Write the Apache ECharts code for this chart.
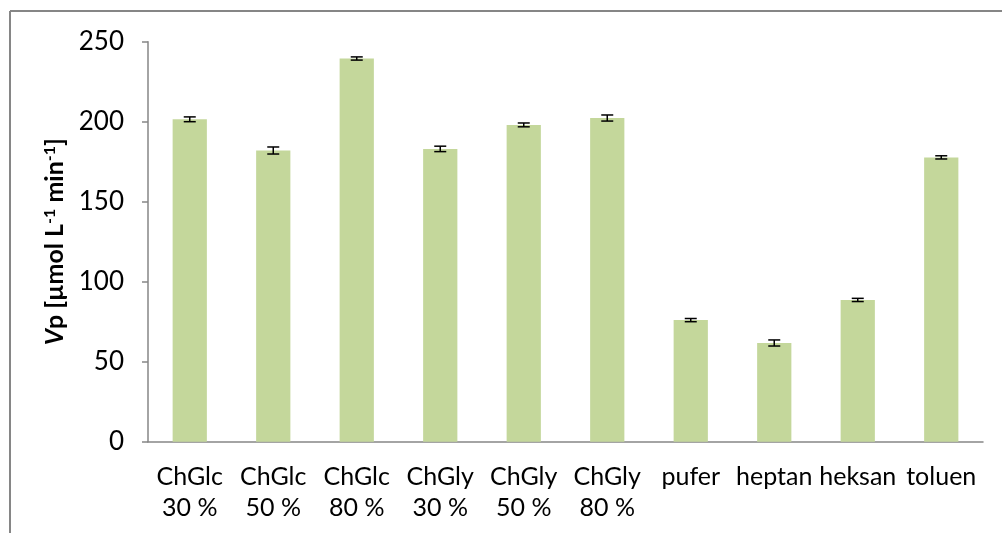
<!DOCTYPE html>
<html>
<head>
<meta charset="utf-8">
<script src="https://cdn.jsdelivr.net/npm/echarts@6/dist/echarts.min.js"></script>
<style>
html,body{margin:0;padding:0;background:#fff;}
#chart{width:1002px;height:533px;}
</style>
</head>
<body>
<div id="chart"></div>
<script>
var categories = ['ChGlc\n30 %', 'ChGlc\n50 %', 'ChGlc\n80 %', 'ChGly\n30 %', 'ChGly\n50 %', 'ChGly\n80 %', 'pufer', 'heptan', 'heksan', 'toluen'];
var values = [201.5, 182, 239.5, 183, 198, 202.3, 76, 61.7, 88.6, 177.7];
var errors = [1.5, 2.2, 1.0, 1.7, 1.2, 1.9, 1.0, 1.9, 1.0, 1.0];
var yTicks = [0, 50, 100, 150, 200, 250];

var errData = values.map(function (v, i) { return [i, v - errors[i], v + errors[i]]; });

var chart = echarts.init(document.getElementById('chart'));
var font = 'Lato';
chart.setOption({
  animation: false,
  backgroundColor: '#fff',
  grid: { left: 148, right: 19, top: 41.7, bottom: 91.3 },
  graphic: [
    { type: 'line', shape: { x1: 10, y1: 11, x2: 10, y2: 533 }, style: { stroke: '#868686', lineWidth: 2 } },
    { type: 'line', shape: { x1: 10, y1: 11, x2: 1002, y2: 11 }, style: { stroke: '#868686', lineWidth: 2 } }
  ],
  xAxis: {
    type: 'category',
    data: categories,
    axisLine: { lineStyle: { color: '#868686', width: 1.5 } },
    axisTick: { length: 7, lineStyle: { color: '#868686', width: 1.5 } },
    axisLabel: { interval: 0, color: '#000', fontFamily: font, fontSize: 25, lineHeight: 31, margin: 20 }
  },
  yAxis: {
    type: 'value',
    min: yTicks[0],
    max: yTicks[yTicks.length - 1],
    interval: 50,
    splitLine: { show: false },
    axisLine: { show: true, lineStyle: { color: '#868686', width: 1.5 } },
    axisTick: { show: true, length: 6, lineStyle: { color: '#868686', width: 1.5 } },
    axisLabel: { color: '#000', fontFamily: font, fontSize: 26, margin: 24 },
    name: '{i|V}{b|p [µmol L}{s|-1}{b| min}{s|-1}{b|]}',
    nameLocation: 'middle',
    nameRotate: 90,
    nameGap: 72,
    nameTextStyle: {
      rich: {
        i: { fontFamily: font, fontWeight: 'bold', fontStyle: 'italic', fontSize: 25, color: '#000' },
        b: { fontFamily: font, fontWeight: 'bold', fontSize: 25, color: '#000' },
        s: { fontFamily: font, fontWeight: 'bold', fontSize: 16, color: '#000', padding: [0, 0, 11, 0] }
      }
    }
  },
  series: [
    {
      type: 'bar',
      data: values,
      barWidth: '41%',
      itemStyle: { color: '#C4D79B' }
    },
    {
      type: 'custom',
      data: errData,
      z: 10,
      renderItem: function (params, api) {
        var x = api.value(0);
        var lo = api.coord([x, api.value(1)]);
        var hi = api.coord([x, api.value(2)]);
        var hw = 6;
        var st = { stroke: '#000', lineWidth: 1.5 };
        return {
          type: 'group',
          children: [
            { type: 'line', shape: { x1: lo[0], y1: lo[1], x2: hi[0], y2: hi[1] }, style: st },
            { type: 'line', shape: { x1: lo[0] - hw, y1: lo[1], x2: lo[0] + hw, y2: lo[1] }, style: st },
            { type: 'line', shape: { x1: hi[0] - hw, y1: hi[1], x2: hi[0] + hw, y2: hi[1] }, style: st }
          ]
        };
      }
    }
  ]
});
</script>
</body>
</html>
